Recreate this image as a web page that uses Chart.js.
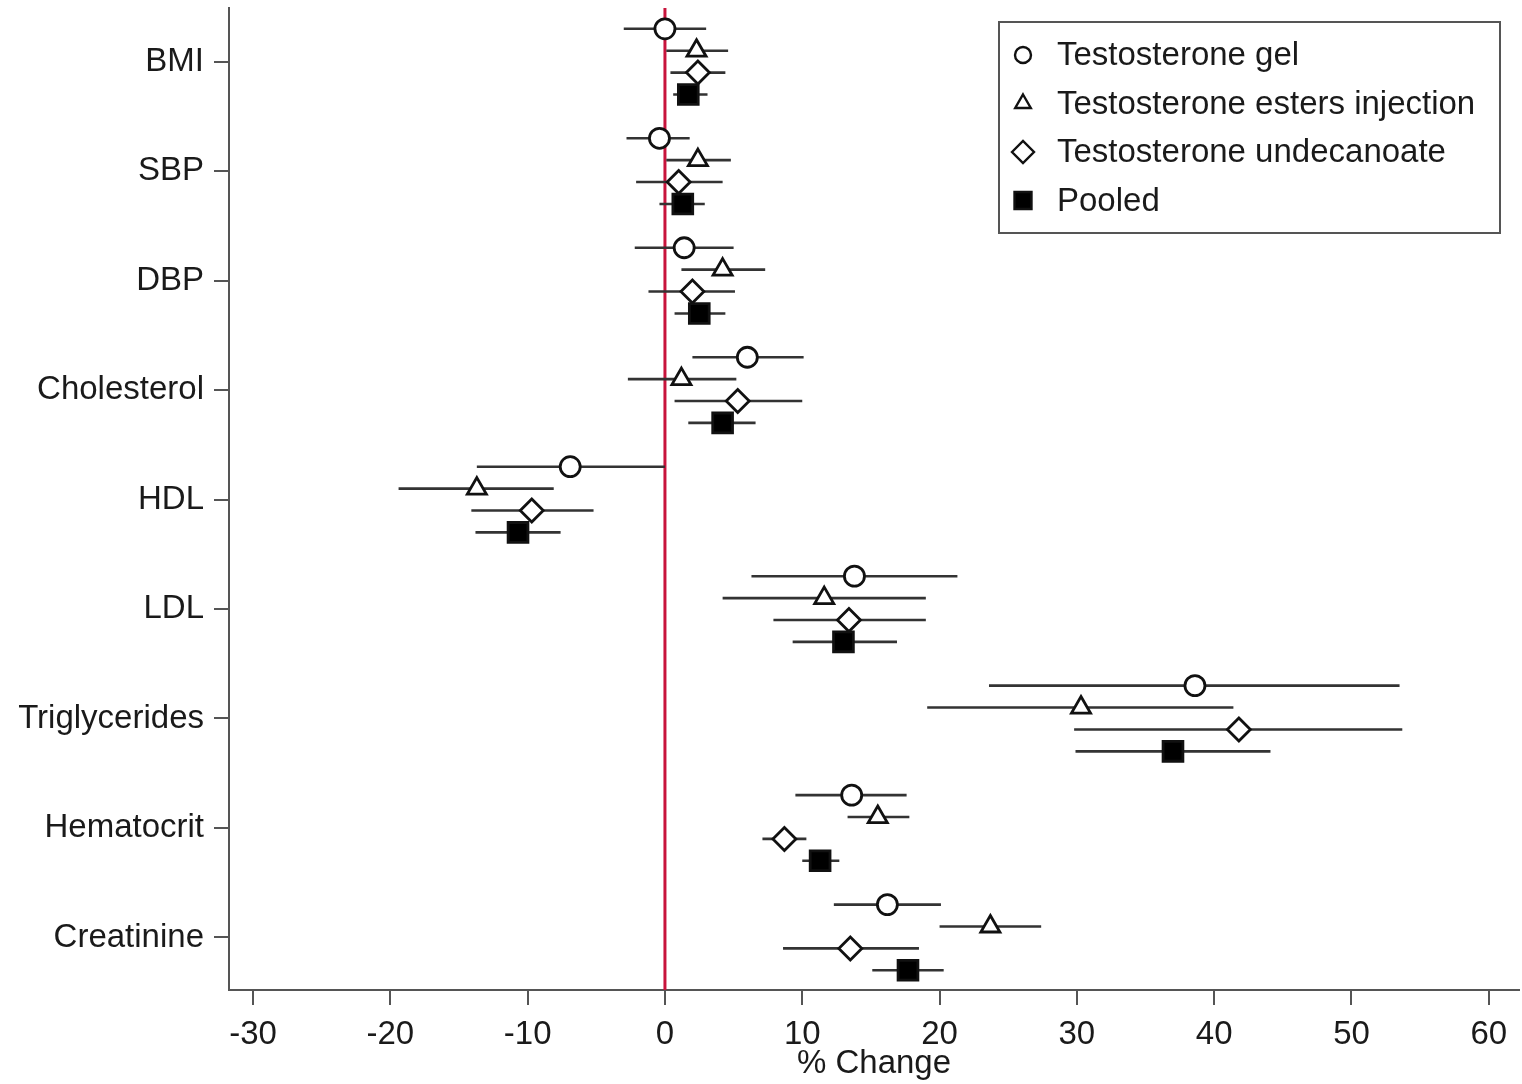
<!DOCTYPE html>
<html>
<head>
<meta charset="utf-8">
<script src="https://cdn.jsdelivr.net/npm/chart.js@4/dist/chart.umd.min.js"></script>
<style>
  html, body { margin: 0; padding: 0; background: #fff; }
</style>
</head>
<body>
<canvas id="forest" width="1522" height="1084"></canvas>
<script>
// categories (top to bottom) and tick labels
const categories = ['BMI', 'SBP', 'DBP', 'Cholesterol', 'HDL', 'LDL', 'Triglycerides', 'Hematocrit', 'Creatinine'];
const xTicks = [-30, -20, -10, 0, 10, 20, 30, 40, 50, 60];

// % change estimates and 95% CI
const gelEst = [0.0, -0.4, 1.4, 6.0, -6.9, 13.8, 38.6, 13.6, 16.2];
const gelLo  = [-3.0, -2.8, -2.2, 2.0, -13.7, 6.3, 23.6, 9.5, 12.3];
const gelHi  = [3.0, 1.8, 5.0, 10.1, 0.0, 21.3, 53.5, 17.6, 20.1];

const injEst = [2.3, 2.4, 4.2, 1.2, -13.7, 11.6, 30.3, 15.5, 23.7];
const injLo  = [0.1, 0.1, 1.2, -2.7, -19.4, 4.2, 19.1, 13.3, 20.0];
const injHi  = [4.6, 4.8, 7.3, 5.2, -8.1, 19.0, 41.4, 17.8, 27.4];

const undEst = [2.4, 1.0, 2.0, 5.3, -9.7, 13.4, 41.8, 8.7, 13.5];
const undLo  = [0.4, -2.1, -1.2, 0.7, -14.1, 7.9, 29.8, 7.1, 8.6];
const undHi  = [4.4, 4.2, 5.1, 10.0, -5.2, 19.0, 53.7, 10.3, 18.5];

const poolEst = [1.7, 1.3, 2.5, 4.2, -10.7, 13.0, 37.0, 11.3, 17.7];
const poolLo  = [0.6, -0.4, 0.7, 1.7, -13.8, 9.3, 29.9, 10.0, 15.1];
const poolHi  = [3.1, 2.9, 4.4, 6.6, -7.6, 16.9, 44.1, 12.7, 20.3];

// vertical slot of each series inside a category row
const rowOffsets = [-0.3, -0.1, 0.1, 0.3];

const FONT = '"Liberation Sans", Arial, sans-serif';
Chart.defaults.font.family = FONT;
Chart.defaults.font.size = 33;
Chart.defaults.color = '#1a1a1a';

function ciSet(lo, hi, off) {
    const pts = [];
    lo.forEach((v, i) => {
        pts.push({x: v, y: i + off}, {x: hi[i], y: i + off}, {x: null, y: null});
    });
    return {
        data: pts, showLine: true, pointRadius: 0, pointHoverRadius: 0,
        borderColor: '#333', borderWidth: 2.6, order: 2
    };
}

function markerSet(label, est, off, style, radius, fill) {
    return {
        label: label,
        data: est.map((v, i) => ({x: v, y: i + off})),
        showLine: false,
        pointStyle: style,
        pointRadius: radius,
        pointHoverRadius: radius,
        pointBackgroundColor: fill,
        pointBorderColor: '#111',
        pointBorderWidth: 2.8,
        order: 1
    };
}

const series = [
    {label: 'Testosterone gel', est: gelEst, lo: gelLo, hi: gelHi, style: 'circle', r: 10, fill: '#fff', lr: 8},
    {label: 'Testosterone esters injection', est: injEst, lo: injLo, hi: injHi, style: 'triangle', r: 11, fill: '#fff', lr: 9},
    {label: 'Testosterone undecanoate', est: undEst, lo: undLo, hi: undHi, style: 'rectRot', r: 11.5, fill: '#fff', lr: 11},
    {label: 'Pooled', est: poolEst, lo: poolLo, hi: poolHi, style: 'rect', r: 14, fill: '#000', lr: 12}
];

const datasets = [];
series.forEach((s, k) => datasets.push(ciSet(s.lo, s.hi, rowOffsets[k])));
series.forEach((s, k) => datasets.push(markerSet(s.label, s.est, rowOffsets[k], s.style, s.r, s.fill)));

// red reference line at 0
const zeroLine = {
    id: 'zeroLine',
    beforeDatasetsDraw(chart) {
        const {ctx, chartArea} = chart;
        const x = chart.scales.x.getPixelForValue(0);
        ctx.save();
        ctx.strokeStyle = '#c8143c';
        ctx.lineWidth = 3;
        ctx.beginPath();
        ctx.moveTo(x, chartArea.top);
        ctx.lineTo(x, chartArea.bottom);
        ctx.stroke();
        ctx.restore();
    }
};

// boxed legend in the top right corner of the plot
const boxLegend = {
    id: 'boxLegend',
    afterDraw(chart) {
        const {ctx, chartArea} = chart;
        const w = 501, h = 211;
        const left = chartArea.right - 19 - w, top = chartArea.top + 14;
        ctx.save();
        ctx.strokeStyle = '#555';
        ctx.lineWidth = 2;
        ctx.strokeRect(left, top, w, h);
        ctx.font = '33px ' + FONT;
        ctx.textBaseline = 'middle';
        series.forEach((s, k) => {
            const y = top + 33 + k * 48.5;
            ctx.fillStyle = s.fill;
            ctx.strokeStyle = '#111';
            ctx.lineWidth = 2.4;
            Chart.helpers.drawPoint(ctx, {pointStyle: s.style, radius: s.lr, borderWidth: 2.4, rotation: 0}, left + 24, y);
            ctx.fillStyle = '#1a1a1a';
            ctx.fillText(s.label, left + 58, y + 1);
        });
        ctx.restore();
    }
};

function noPad(scale) {
    scale.paddingTop = 0;
    scale.paddingBottom = 0;
    scale.paddingLeft = 0;
    scale.paddingRight = 0;
}

const forest = new Chart(document.getElementById('forest'), {
    type: 'scatter',
    data: {datasets: datasets},
    plugins: [zeroLine, boxLegend],
    options: {
        responsive: false,
        animation: false,
        events: [],
        layout: {autoPadding: false, padding: {top: 8, right: 3, left: 0, bottom: 0}},
        plugins: {legend: {display: false}, tooltip: {enabled: false}},
        scales: {
            x: {
                type: 'linear',
                min: -31.75,
                max: 62.2,
                afterBuildTicks: (scale) => { scale.ticks = xTicks.map(v => ({value: v})); },
                afterFit: (scale) => { scale.height = 94; noPad(scale); },
                border: {display: true, color: '#555', width: 2},
                grid: {drawOnChartArea: false, drawTicks: true, tickLength: 15, color: '#555', lineWidth: 2},
                ticks: {autoSkip: false, maxRotation: 0, padding: 10, color: '#1a1a1a'},
                title: {display: true, text: '% Change', color: '#1a1a1a', font: {size: 33}, padding: {top: 0, bottom: 0}}
            },
            y: {
                type: 'linear',
                reverse: true,
                min: -0.49,
                max: 8.48,
                afterBuildTicks: (scale) => { scale.ticks = categories.map((c, i) => ({value: i})); },
                afterFit: (scale) => { scale.width = 229; noPad(scale); },
                border: {display: true, color: '#555', width: 2},
                grid: {drawOnChartArea: false, drawTicks: true, tickLength: 15, color: '#555', lineWidth: 2},
                ticks: {autoSkip: false, padding: 10, color: '#1a1a1a', callback: (v) => categories[v]}
            }
        }
    }
});
</script>
</body>
</html>
